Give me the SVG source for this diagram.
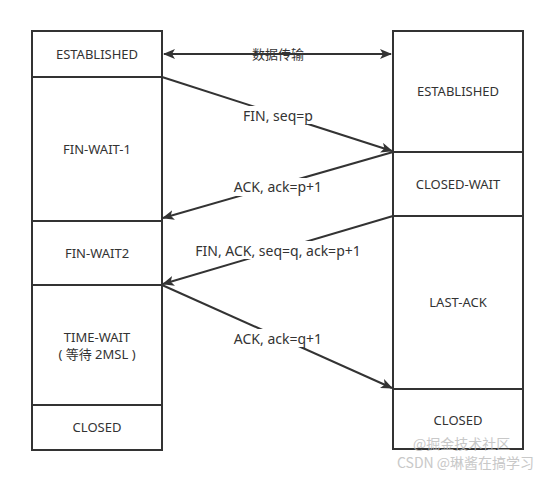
<svg xmlns="http://www.w3.org/2000/svg" width="556" height="477" viewBox="0 0 556 477">
<style>
.box{fill:#fff;stroke:#333;stroke-width:2}
.t{font-family:"Noto Sans","Noto Sans CJK SC",sans-serif;font-size:13px;fill:#333;text-anchor:middle;dominant-baseline:central}
.l{font-size:14px}
.ln{stroke:#333;stroke-width:2;fill:none}
.lbl{fill:#fff}
.wm{font-family:"Noto Sans CJK SC",sans-serif;font-size:14px;fill:#bbb;opacity:0.8}
</style>
<defs>
<marker id="ah" markerWidth="12" markerHeight="10" refX="11" refY="5" orient="auto" markerUnits="userSpaceOnUse">
<path d="M0,0 L12,5 L0,10 L3,5 Z" fill="#333"/>
</marker>
<marker id="ahs" markerWidth="12" markerHeight="10" refX="1" refY="5" orient="auto" markerUnits="userSpaceOnUse">
<path d="M12,0 L0,5 L12,10 L9,5 Z" fill="#333"/>
</marker>
</defs>
<rect width="556" height="477" fill="#fff"/>
<g id="c-established"><rect class="box" x="32" y="31" width="130" height="46"/><text class="t" x="97" y="54">ESTABLISHED</text></g>
<g id="c-finwait1"><rect class="box" x="32" y="77" width="130" height="144"/><text class="t" x="97" y="149">FIN-WAIT-1</text></g>
<g id="c-finwait2"><rect class="box" x="32" y="221" width="130" height="64"/><text class="t" x="97" y="253">FIN-WAIT2</text></g>
<g id="c-timewait"><rect class="box" x="32" y="285" width="130" height="120"/><text class="t" x="97" y="337">TIME-WAIT</text><text class="t" x="97" y="354">( 等待 2MSL )</text></g>
<g id="c-closed"><rect class="box" x="32" y="405" width="130" height="45"/><text class="t" x="97" y="427">CLOSED</text></g>
<g id="s-established"><rect class="box" x="393" y="31" width="130" height="121"/><text class="t" x="458" y="91">ESTABLISHED</text></g>
<g id="s-closewait"><rect class="box" x="393" y="152" width="130" height="64"/><text class="t" x="458" y="184">CLOSED-WAIT</text></g>
<g id="s-lastack"><rect class="box" x="393" y="216" width="130" height="173"/><text class="t" x="458" y="302">LAST-ACK</text></g>
<g id="s-closed"><rect class="box" x="393" y="389" width="130" height="60"/><text class="t" x="458" y="420">CLOSED</text></g>
<g id="connectors">
<line class="ln" x1="164" y1="54" x2="391" y2="54" marker-start="url(#ahs)" marker-end="url(#ah)"/>
<text class="t" x="278" y="54">数据传输</text>
<line class="ln" x1="162" y1="77" x2="392" y2="151" marker-end="url(#ah)"/>
<rect class="lbl" x="240" y="106" width="76" height="18"/>
<text class="t l" x="278" y="115">FIN, seq=p</text>
<line class="ln" x1="393" y1="152" x2="163" y2="218" marker-end="url(#ah)"/>
<rect class="lbl" x="228" y="178" width="100" height="18"/>
<text class="t l" x="278" y="186">ACK, ack=p+1</text>
<line class="ln" x1="393" y1="216" x2="163" y2="284" marker-end="url(#ah)"/>
<rect class="lbl" x="192" y="241" width="172" height="18"/>
<text class="t l" x="278" y="250">FIN, ACK, seq=q, ack=p+1</text>
<line class="ln" x1="162" y1="285" x2="392" y2="388" marker-end="url(#ah)"/>
<rect class="lbl" x="229" y="329" width="100" height="18"/>
<text class="t l" x="278" y="338">ACK, ack=q+1</text>
</g>
<text class="wm" x="413" y="449" font-size="12">@掘金技术社区</text>
<text class="wm" x="397" y="468" font-family="Liberation Sans,Noto Sans CJK SC,sans-serif">CSDN @琳酱在搞学习</text>
</svg>
